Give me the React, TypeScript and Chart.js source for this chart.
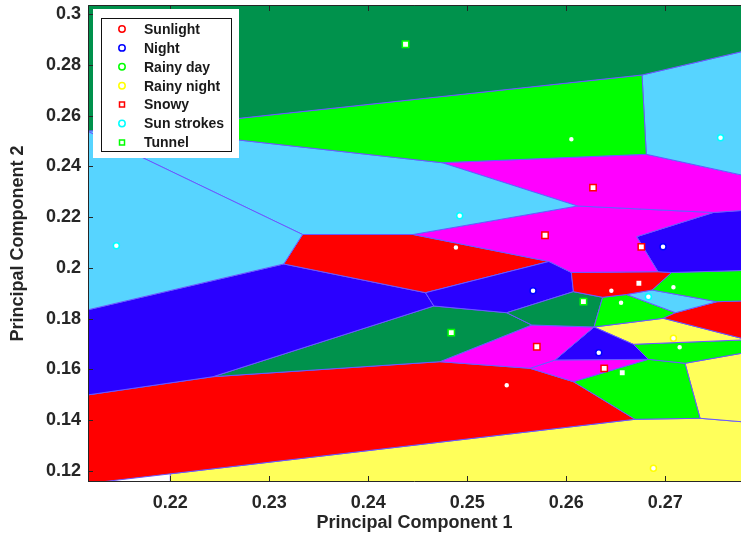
import React, { useEffect, useRef } from 'react';
import { Chart, registerables } from 'chart.js';

Chart.register(...registerables);

// ---------- axes ----------
const xTicks = [0.22, 0.23, 0.24, 0.25, 0.26, 0.27];
const yTicks = [0.12, 0.14, 0.16, 0.18, 0.2, 0.22, 0.24, 0.26, 0.28, 0.3];
const xRange = [0.211687, 0.277646];
const yRange = [0.115543, 0.303665];
const xTitle = 'Principal Component 1';
const yTitle = 'Principal Component 2';

// ---------- classes ----------
const classNames = ['Sunlight', 'Night', 'Rainy day', 'Rainy night', 'Snowy', 'Sun strokes', 'Tunnel'];
const classMarkers = ['circle', 'circle', 'circle', 'circle', 'rect', 'circle', 'rect'];
const classMarkerColors = ['#ff0000', '#0000ff', '#00ff00', '#ffff00', '#ff0000', '#00ffff', '#00ff00'];
const classRegionColors = ['#ff0000', '#2a00ff', '#00ff00', '#ffff5a', '#ff00ff', '#57d4ff', '#00924c'];

// ---------- sample points (PC1, PC2) ----------
const sunlightPts = [[0.24885, 0.20807], [0.26455, 0.19099], [0.25398, 0.15368]];
const nightPts = [[0.26977, 0.20834], [0.25664, 0.19099], [0.26328, 0.16654]];
const rainyDayPts = [[0.26051, 0.2507], [0.27082, 0.19233], [0.26553, 0.18626], [0.27145, 0.16867]];
const rainyNightPts = [[0.27082, 0.17222], [0.2688, 0.12095]];
const snowyPts = [[0.2627, 0.23166], [0.25785, 0.21284], [0.26758, 0.20828], [0.26733, 0.19391], [0.25702, 0.1689], [0.26383, 0.16038]];
const sunStrokesPts = [[0.27558, 0.25133], [0.24923, 0.22057], [0.21455, 0.20868], [0.26829, 0.18862]];
const tunnelPts = [[0.24376, 0.28817], [0.26173, 0.18667], [0.24838, 0.17443], [0.26565, 0.15865]];
const classPoints = [sunlightPts, nightPts, rainyDayPts, rainyNightPts, snowyPts, sunStrokesPts, tunnelPts];

// ---------- decision regions (polygon vertices in PC1, PC2) ----------
const regionTunnelTop = [[0.2116, 0.3045], [0.2777, 0.3045], [0.2777, 0.28525], [0.26765, 0.27606], [0.21694, 0.25476], [0.2116, 0.25397]];
const regionRainyUpper = [[0.21694, 0.25476], [0.26765, 0.27606], [0.26808, 0.24478], [0.24746, 0.24147]];
const regionSunStrokesRight = [[0.26765, 0.27606], [0.2777, 0.28525], [0.2777, 0.23662], [0.26808, 0.24478]];
const regionSunStrokesLeft = [[0.2116, 0.25397], [0.23336, 0.21315], [0.23146, 0.20152], [0.2116, 0.18338]];
const regionSunStrokesMid = [[0.2116, 0.25397], [0.21694, 0.25476], [0.24746, 0.24147], [0.26114, 0.22439], [0.24452, 0.21315], [0.23336, 0.21315]];
const regionSnowyUpper = [[0.24746, 0.24147], [0.26808, 0.24478], [0.2777, 0.23662], [0.2777, 0.22262], [0.27485, 0.22183], [0.26114, 0.22439]];
const regionSnowyMid = [[0.24452, 0.21315], [0.26114, 0.22439], [0.27485, 0.22183], [0.26711, 0.21229], [0.26926, 0.19848], [0.26051, 0.19817], [0.25825, 0.20251]];
const regionNightRight = [[0.26711, 0.21229], [0.27485, 0.22183], [0.2777, 0.22262], [0.2777, 0.19896], [0.27063, 0.19817], [0.26926, 0.19848]];
const regionSunlightSmall = [[0.26051, 0.19817], [0.26926, 0.19848], [0.27063, 0.19817], [0.26866, 0.19127], [0.26608, 0.18949], [0.26367, 0.18839], [0.26072, 0.1906]];
const regionRainyRight = [[0.27063, 0.19817], [0.2777, 0.19896], [0.2777, 0.18693], [0.27522, 0.18665], [0.26866, 0.19127]];
const regionSunStrokesSmall = [[0.26608, 0.18949], [0.26866, 0.19127], [0.27522, 0.18665], [0.27103, 0.18231]];
const regionSunlightRight = [[0.27103, 0.18231], [0.27522, 0.18665], [0.2777, 0.18693], [0.2777, 0.17222], [0.2698, 0.1801]];
const regionRainyMid = [[0.26367, 0.18839], [0.26608, 0.18949], [0.27103, 0.18231], [0.2698, 0.1801], [0.2628, 0.17667]];
const regionTunnelSmall = [[0.26072, 0.1906], [0.26367, 0.18839], [0.2628, 0.17667], [0.25651, 0.17746], [0.25398, 0.18231]];
const regionNightMid = [[0.24578, 0.1902], [0.25825, 0.20251], [0.26051, 0.19817], [0.26072, 0.1906], [0.25398, 0.18231], [0.24662, 0.18495]];
const regionSunlightMid = [[0.23336, 0.21315], [0.24452, 0.21315], [0.25825, 0.20251], [0.24578, 0.1902], [0.23146, 0.20152]];
const regionNightLeft = [[0.2116, 0.18338], [0.23146, 0.20152], [0.24578, 0.1902], [0.24662, 0.18495], [0.22431, 0.15707], [0.2116, 0.14985]];
const regionTunnelMid = [[0.22431, 0.15707], [0.24662, 0.18495], [0.25398, 0.18231], [0.25651, 0.17746], [0.24724, 0.16299]];
const regionSnowyLow = [[0.24724, 0.16299], [0.25651, 0.17746], [0.2628, 0.17667], [0.25886, 0.16366], [0.25633, 0.16038]];
const regionNightSmall = [[0.2628, 0.17667], [0.26677, 0.16985], [0.26828, 0.16393], [0.25886, 0.16366]];
const regionRainyNightThin = [[0.2628, 0.17667], [0.2698, 0.1801], [0.2777, 0.17222], [0.2777, 0.17155], [0.26677, 0.16985]];
const regionRainyLow = [[0.26677, 0.16985], [0.2777, 0.17155], [0.2777, 0.1663], [0.27199, 0.16236], [0.26828, 0.16393]];
const regionSnowySmall = [[0.25886, 0.16366], [0.26828, 0.16393], [0.26071, 0.1551], [0.25633, 0.16038]];
const regionRainyBottom = [[0.26828, 0.16393], [0.27199, 0.16236], [0.27351, 0.14067], [0.26694, 0.14027], [0.26071, 0.1551]];
const regionRainyNightRight = [[0.27199, 0.16236], [0.2777, 0.1663], [0.2777, 0.13932], [0.27351, 0.14067]];
const regionSunlightLow = [[0.2116, 0.14985], [0.22431, 0.15707], [0.24724, 0.16299], [0.25633, 0.16038], [0.26071, 0.1551], [0.26694, 0.14027], [0.2116, 0.11491]];
const regionRainyNightLow = [[0.22, 0.11876], [0.26694, 0.14027], [0.27351, 0.14067], [0.2777, 0.13932], [0.2777, 0.115], [0.22, 0.115]];

// region -> class index
const regions: [number[][], number][] = [
  [regionTunnelTop, 6], [regionRainyUpper, 2], [regionSunStrokesRight, 5],
  [regionSunStrokesLeft, 5], [regionSunStrokesMid, 5], [regionSnowyUpper, 4],
  [regionSnowyMid, 4], [regionNightRight, 1], [regionSunlightSmall, 0],
  [regionRainyRight, 2], [regionSunStrokesSmall, 5], [regionSunlightRight, 0],
  [regionRainyMid, 2], [regionTunnelSmall, 6], [regionNightMid, 1],
  [regionSunlightMid, 0], [regionNightLeft, 1], [regionTunnelMid, 6],
  [regionSnowyLow, 4], [regionNightSmall, 1], [regionRainyNightThin, 3],
  [regionRainyLow, 2], [regionSnowySmall, 4], [regionRainyBottom, 2],
  [regionRainyNightRight, 3], [regionSunlightLow, 0], [regionRainyNightLow, 3],
];

const FONT = '"Liberation Sans", Arial, Helvetica, sans-serif';
const TEXT = '#262626';
const EDGE = '#6a58ff';

const fmt = (v: number) => {
  const s = Number(v).toFixed(2);
  return s.endsWith('0') ? s.slice(0, -1) : s;
};

const zeroPad = (s: any) => {
  s.paddingLeft = 0;
  s.paddingRight = 0;
  s.paddingTop = 0;
  s.paddingBottom = 0;
};

const framePlugin = {
  id: 'matlabFrame',
  afterDatasetsDraw(chart: any) {
    const { ctx, chartArea: a, scales } = chart;
    const x = scales.x, y = scales.y;
    ctx.save();
    ctx.strokeStyle = TEXT;
    ctx.lineWidth = 1;
    ctx.beginPath();
    ctx.moveTo(a.left + 0.5, a.bottom - 0.5);
    ctx.lineTo(a.left + 0.5, a.top + 0.5);
    ctx.lineTo(a.right, a.top + 0.5);
    ctx.moveTo(a.left, a.bottom - 0.5);
    ctx.lineTo(a.right, a.bottom - 0.5);
    for (const v of xTicks) {
      const px = Math.round(x.getPixelForValue(v)) + 0.5;
      ctx.moveTo(px, a.bottom);
      ctx.lineTo(px, a.bottom - 6);
      ctx.moveTo(px, a.top);
      ctx.lineTo(px, a.top + 6);
    }
    for (const v of yTicks) {
      const py = Math.round(y.getPixelForValue(v)) + 0.5;
      ctx.moveTo(a.left, py);
      ctx.lineTo(a.left + 5, py);
    }
    ctx.stroke();
    ctx.restore();
  },
  afterDraw(chart: any) {
    const { ctx, chartArea: a } = chart;
    ctx.save();
    ctx.fillStyle = '#ffffff';
    ctx.fillRect(a.left + 5, a.top + 4, 146, 149);
    ctx.strokeStyle = '#111111';
    ctx.lineWidth = 1;
    ctx.strokeRect(a.left + 13.5, a.top + 13.5, 130, 133);
    ctx.font = `bold 14px ${FONT}`;
    ctx.textBaseline = 'middle';
    ctx.textAlign = 'left';
    classNames.forEach((name, i) => {
      const cy = a.top + 24 + i * 18.9;
      const cx = a.left + 34;
      ctx.strokeStyle = classMarkerColors[i];
      ctx.lineWidth = 1.5;
      ctx.beginPath();
      if (classMarkers[i] === 'rect') {
        ctx.rect(cx - 2.5, cy - 2.5, 5, 5);
      } else {
        ctx.arc(cx, cy, 3.2, 0, Math.PI * 2);
      }
      ctx.stroke();
      ctx.fillStyle = '#1a1a1a';
      ctx.fillText(name, a.left + 56, cy + 1);
    });
    ctx.restore();
  },
};

export default function App() {
  const ref = useRef<HTMLCanvasElement>(null);

  useEffect(() => {
    const regionSets = regions.map(([poly, cls]) => ({
      type: 'line' as const,
      label: 'region-' + classNames[cls],
      data: [...poly, poly[0]].map(([px, py]) => ({ x: px, y: py })),
      fill: 'shape',
      backgroundColor: classRegionColors[cls],
      borderColor: EDGE,
      borderWidth: 1,
      pointRadius: 0,
      tension: 0,
      clip: 0,
      order: 1,
    }));
    const pointSets = classNames.map((name, i) => ({
      type: 'scatter' as const,
      label: name,
      data: classPoints[i].map(([px, py]) => ({ x: px, y: py })),
      pointStyle: classMarkers[i],
      pointRadius: classMarkers[i] === 'rect' ? 4.5 : 3,
      pointBorderWidth: 1.5,
      backgroundColor: '#ffffff',
      borderColor: classMarkerColors[i],
      showLine: false,
      order: 0,
    }));

    const tickFont = { family: FONT, size: 18, weight: 'bold' as const };
    const chart = new Chart(ref.current as HTMLCanvasElement, {
      type: 'scatter',
      data: { datasets: [...pointSets, ...regionSets] as any },
      options: {
        responsive: false,
        animation: false,
        events: [],
        layout: { autoPadding: false, padding: { top: 5, right: 0, bottom: 0, left: 0 } },
        plugins: { legend: { display: false }, tooltip: { enabled: false } },
        scales: {
          x: {
            type: 'linear',
            min: xRange[0],
            max: xRange[1],
            grid: { display: false, drawTicks: false },
            border: { display: false },
            afterBuildTicks: (s: any) => { s.ticks = xTicks.map((v) => ({ value: v })); },
            afterFit: (s: any) => { s.height = 57; zeroPad(s); },
            ticks: { callback: (v: any) => fmt(v), font: tickFont, color: TEXT, padding: 10, maxRotation: 0, autoSkip: false },
            title: { display: true, text: xTitle, font: tickFont, color: TEXT, padding: { top: 0, bottom: 5 } },
          },
          y: {
            type: 'linear',
            min: yRange[0],
            max: yRange[1],
            grid: { display: false, drawTicks: false },
            border: { display: false },
            afterBuildTicks: (s: any) => { s.ticks = yTicks.map((v) => ({ value: v })); },
            afterFit: (s: any) => { s.width = 88; zeroPad(s); },
            ticks: { callback: (v: any) => fmt(v), font: tickFont, color: TEXT, padding: 7, autoSkip: false },
            title: { display: true, text: yTitle, font: tickFont, color: TEXT, padding: { top: 7, bottom: 0 } },
          },
        },
      },
      plugins: [framePlugin],
    });
    return () => chart.destroy();
  }, []);

  return (
    <div style={{ position: 'absolute', left: 0, top: 0, width: 741, height: 539, background: '#ffffff' }}>
      <canvas ref={ref} width={741} height={539} style={{ width: 741, height: 539, display: 'block' }} />
    </div>
  );
}
